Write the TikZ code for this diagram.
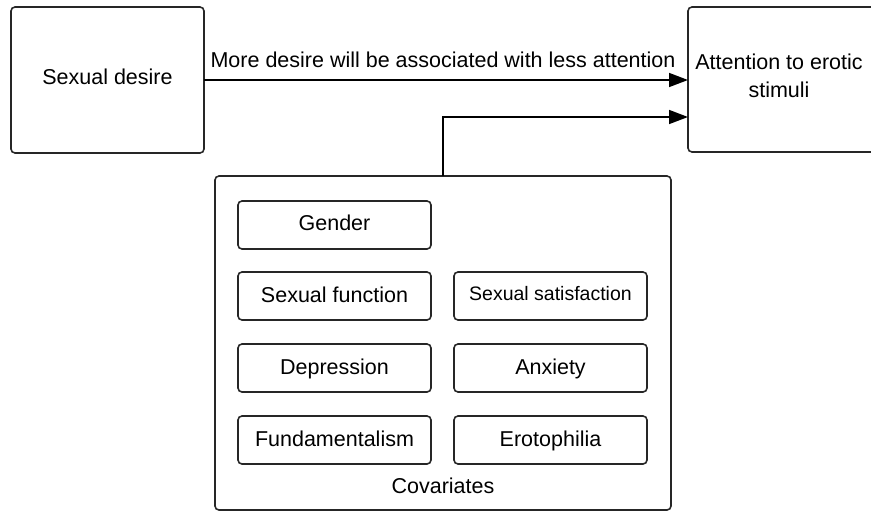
\documentclass[tikz,border=0pt]{standalone}
\usepackage{fontspec}
\setmainfont{Liberation Sans}
\usetikzlibrary{arrows.meta}
\begin{document}
\begin{tikzpicture}[x=1pt,y=-1pt,
  box/.style={draw=black!85, line width=1.6pt, rounded corners=4pt},
  lbl/.style={font=\fontsize{21.5}{28}\selectfont, align=center, inner sep=0pt, anchor=base},
  conn/.style={line width=1.6pt, -{Triangle[length=19pt,width=14pt]}}]
\useasboundingbox (0,0) rectangle (871,512);
\draw[box] (11,7) rectangle (204,153);
\node[lbl] (sd) at (107.5,84) {Sexual desire};
\draw[box] (688,7) rectangle (880,152);
\node[lbl] (att) at (779,97) {Attention to erotic\\stimuli};
\coordinate (sdR) at (204,80);
\coordinate (attA) at (688,80);
\coordinate (attB) at (688,117);
\draw[box] (215,176) rectangle (671,510);
\coordinate (covT) at (443,176);
\coordinate (bend) at (443,117);
\draw[conn] (sdR) -- (attA);
\node[lbl] (lab) at (443,67) {More desire will be associated with less attention};
\draw[conn] (covT) -- (bend) -- (attB);
\draw[box] (238,201) rectangle (431,249);
\node[lbl] (g) at (334.5,230) {Gender};
\draw[box] (238,272) rectangle (431,320);
\node[lbl] (sf) at (334.5,302) {Sexual function};
\draw[box] (454,272) rectangle (647,320);
\node[lbl, font=\fontsize{19.5}{22}\selectfont] (ss) at (550.5,300) {Sexual satisfaction};
\draw[box] (238,344) rectangle (431,392);
\node[lbl] (dep) at (334.5,374) {Depression};
\draw[box] (454,344) rectangle (647,392);
\node[lbl] (anx) at (550.5,374) {Anxiety};
\draw[box] (238,416) rectangle (431,464);
\node[lbl] (fun) at (334.5,446) {Fundamentalism};
\draw[box] (454,416) rectangle (647,464);
\node[lbl] (ero) at (550.5,446) {Erotophilia};
\node[lbl] (cov) at (443,493) {Covariates};
\end{tikzpicture}
\end{document}
